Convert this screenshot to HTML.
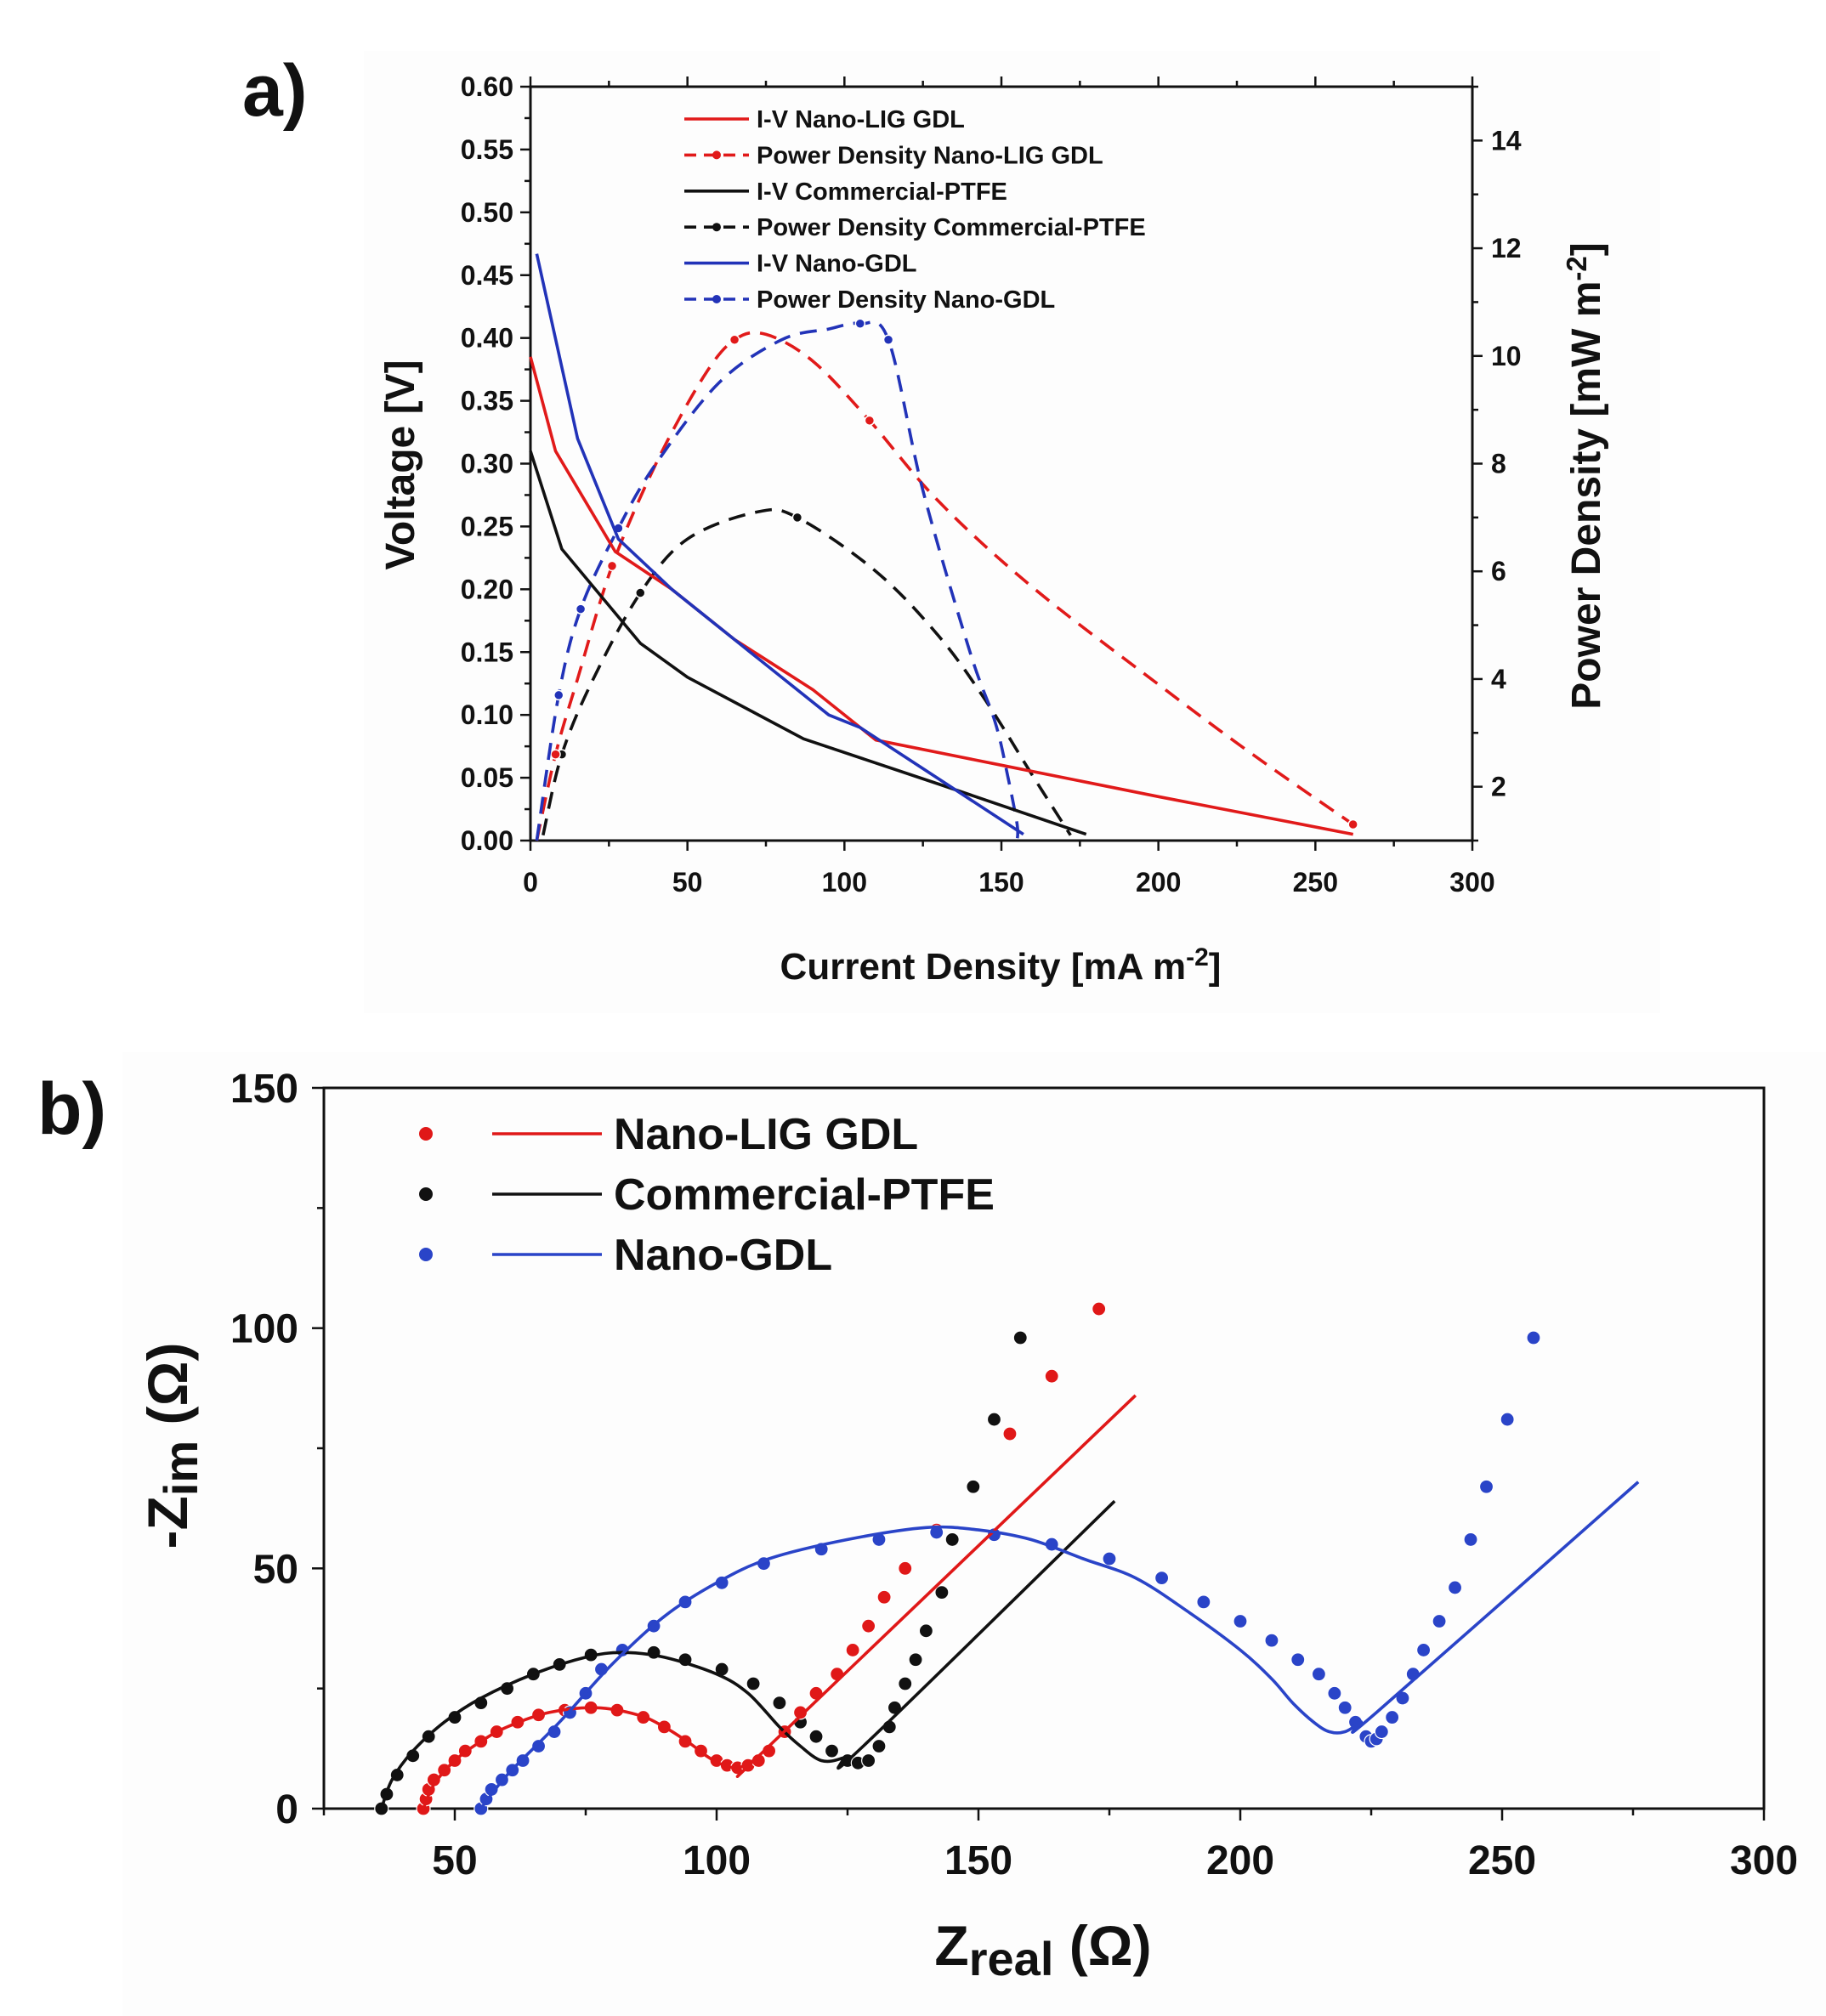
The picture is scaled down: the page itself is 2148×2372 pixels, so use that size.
<!DOCTYPE html>
<html><head><meta charset="utf-8">
<style>
html,body{margin:0;padding:0;background:#fff;}
svg{display:block;}
text{font-family:"Liberation Sans Narrow","Liberation Sans",Arial,sans-serif;font-weight:bold;fill:#111;}
</style></head>
<body>
<svg id="fig" width="2148" height="2372" viewBox="0 0 2148 2372" xmlns="http://www.w3.org/2000/svg">
<rect x="428" y="60" width="1525" height="1132" fill="#fdfdfd"/>
<rect x="144" y="1238" width="2004" height="1134" fill="#fdfdfd"/>
<text x="285" y="136" font-size="86">a)</text>
<text x="44" y="1334" font-size="86">b)</text>
<g id="pa"></g>
<g id="pb"></g>
</svg>
<script>
// ---------- Panel A data ----------
const ivLigX=[0,8,27,45,65,90,110,150,200,262];
const ivLigY=[0.385,0.31,0.23,0.20,0.16,0.12,0.08,0.06,0.035,0.005];
const ivPtfeX=[0,10,35,50,87,130,177];
const ivPtfeY=[0.31,0.232,0.157,0.13,0.081,0.045,0.005];
const ivNanoX=[2,15,28,45,70,95,105,157];
const ivNanoY=[0.467,0.32,0.24,0.2,0.15,0.1,0.09,0.005];
const pdLigX=[2,8,15,26,40,55,65,75,90,108,130,160,200,230,262];
const pdLigY=[1,2.6,4,6.1,8,9.6,10.3,10.4,9.9,8.8,7.3,5.7,3.9,2.6,1.3];
const pdLigMkX=[8,26,65,108,262];
const pdLigMkY=[2.6,6.1,10.3,8.8,1.3];
const pdPtfeX=[4,10,20,35,50,72,85,110,130,145,160,172];
const pdPtfeY=[1.1,2.6,4,5.6,6.6,7.1,7.0,6,4.8,3.6,2.2,1.1];
const pdPtfeMkX=[10,35,85];
const pdPtfeMkY=[2.6,5.6,7.0];
const pdNanoX=[2,9,16,28,40,60,80,95,105,114,125,140,148,152,155,155];
const pdNanoY=[1,3.7,5.3,6.8,8,9.5,10.3,10.5,10.6,10.3,7.5,4.5,3.2,2.2,1.3,1.0];
const pdNanoMkX=[9,16,28,105,114];
const pdNanoMkY=[3.7,5.3,6.8,10.6,10.3];
const aXTicks=[0,50,100,150,200,250,300];
const aYTicks=["0.00","0.05","0.10","0.15","0.20","0.25","0.30","0.35","0.40","0.45","0.50","0.55","0.60"];
const aRTicks=[2,4,6,8,10,12,14];
const aLegend=["I-V Nano-LIG GDL","Power Density Nano-LIG GDL","I-V Commercial-PTFE","Power Density Commercial-PTFE","I-V Nano-GDL","Power Density Nano-GDL"];

// ---------- Panel B data ----------
const ligDotX=[44,44.5,45,46,48,50,52,55,58,62,66,71,76,81,86,90,94,97,100,102,104,106,108,110,113,116,119,123,126,129,132,136,142,156,164,173];
const ligDotY=[0,2,4,6,8,10,12,14,16,18,19.5,20.5,21,20.5,19,17,14,12,10,9,8.5,9,10,12,16,20,24,28,33,38,44,50,58,78,90,104];
const ligFitX=[44,46,50,55,60,68,77,85,90,95,98,101,104,107,110,180];
const ligFitY=[0,5,10,14,17,20,21,19.5,17,13.5,11,9.2,8.5,10,13,86];
const ptfeDotX=[36,37,39,42,45,50,55,60,65,70,76,82,88,94,101,107,112,116,119,122,125,127,129,131,133,134,136,138,140,143,145,149,153,158];
const ptfeDotY=[0,3,7,11,15,19,22,25,28,30,32,33,32.5,31,29,26,22,18,15,12,10,9.5,10,13,17,21,26,31,37,45,56,67,81,98];
const ptfeFitX=[36,38,42,48,55,65,75,82,90,100,106,112,116,120,124,128,176];
const ptfeFitY=[0,6,12,18,23,28,31.5,32.5,31.5,28,24,17,13,10,10.5,13,64];
const nanoDotX=[55,56,57,59,61,63,66,69,72,75,78,82,88,94,101,109,120,131,142,153,164,175,185,193,200,206,211,215,218,220,222,224,225,226,227,229,231,233,235,238,241,244,247,251,256];
const nanoDotY=[0,2,4,6,8,10,13,16,20,24,29,33,38,43,47,51,54,56,57.5,57,55,52,48,43,39,35,31,28,24,21,18,15,14,14.5,16,19,23,28,33,39,46,56,67,81,98];
const nanoFitX=[55,60,70,80,90,100,110,125,140,150,160,170,180,190,200,206,210,214,217,220,223,226,276];
const nanoFitY=[0,7,18,30,40,47,52,56,58.5,58,56,52,48,41,33,27,22,18,16,16,18,20,68];
const bXTicks=[50,100,150,200,250,300];
const bYTicks=[0,50,100,150];
const bLegend=["Nano-LIG GDL","Commercial-PTFE","Nano-GDL"];

const NS="http://www.w3.org/2000/svg";
function mk(parent,tag,attrs){const e=document.createElementNS(NS,tag);for(const k in attrs)e.setAttribute(k,attrs[k]);parent.appendChild(e);return e;}
function pts(xs,ys,fx,fy){return xs.map((x,i)=>fx(x).toFixed(1)+","+fy(ys[i]).toFixed(1)).join(" ");}
function smooth(xs,ys,fx,fy){const P=xs.map((x,i)=>[fx(x),fy(ys[i])]);let d="M"+P[0][0].toFixed(1)+","+P[0][1].toFixed(1);
 for(let i=0;i<P.length-1;i++){const p0=P[Math.max(0,i-1)],p1=P[i],p2=P[i+1],p3=P[Math.min(P.length-1,i+2)];
  const c1=[p1[0]+(p2[0]-p0[0])/6,p1[1]+(p2[1]-p0[1])/6],c2=[p2[0]-(p3[0]-p1[0])/6,p2[1]-(p3[1]-p1[1])/6];
  d+=" C"+c1[0].toFixed(1)+","+c1[1].toFixed(1)+" "+c2[0].toFixed(1)+","+c2[1].toFixed(1)+" "+p2[0].toFixed(1)+","+p2[1].toFixed(1);}
 return d;}

// ===== Panel A =====
const pa=document.getElementById('pa');
const aL=624,aR=1732,aT=102,aB=989;
const ax=v=>aL+(v/300)*(aR-aL);
const ay=v=>aB-(v/0.6)*(aB-aT);
const ap=v=>aB-((v-1)/14)*(aB-aT);
const RED="#e11a1a",BLK="#111",BLU="#2233b8";

let fr=mk(pa,'rect',{x:aL,y:aT,width:aR-aL,height:aB-aT,fill:'none',stroke:'#111','stroke-width':3});


for(let i=0;i<=24;i++){const v=i*0.025;const y=ay(v);const len=i%2==0?12:7;
 const t=mk(pa,'line',{x1:aL-len,y1:y,x2:aL,y2:y,stroke:'#111','stroke-width':2.5});
 
 }
aYTicks.forEach(s=>{const t=mk(pa,'text',{x:aL-20,y:ay(parseFloat(s))+11,'font-size':32,'text-anchor':'end'});t.textContent=s;
 
 });
for(let i=0;i<=12;i++){const v=i*25;const x=ax(v);const len=i%2==0?12:7;
 const t=mk(pa,'line',{x1:x,y1:aB,x2:x,y2:aB+len,stroke:'#111','stroke-width':2.5});
 
 
 const t2=mk(pa,'line',{x1:x,y1:aT,x2:x,y2:aT-len,stroke:'#111','stroke-width':2.5});
 
 }
aXTicks.forEach(v=>{const t=mk(pa,'text',{x:ax(v),y:1049,'font-size':32,'text-anchor':'middle'});t.textContent=v;
 
 });
for(let v=1;v<=15;v++){const y=ap(v);const len=v%2==0?12:7;
 const t=mk(pa,'line',{x1:aR,y1:y,x2:aR+len,y2:y,stroke:'#111','stroke-width':2.5});
 
 }
aRTicks.forEach(v=>{const t=mk(pa,'text',{x:aR+22,y:ap(v)+11,'font-size':32,'text-anchor':'start'});t.textContent=v;
 
 });
let tt=mk(pa,'text',{x:0,y:0,'font-size':48,'text-anchor':'middle',transform:'translate(487,547) rotate(-90)'});tt.textContent="Voltage [V]";


tt=mk(pa,'text',{x:0,y:0,'font-size':48,'text-anchor':'middle',transform:'translate(1882,560) rotate(-90)'});
tt.innerHTML='Power Density [mW m<tspan dy="-16" font-size="33">-2</tspan><tspan dy="16">]</tspan>';


tt=mk(pa,'text',{x:1177,y:1152,'font-size':44,'text-anchor':'middle'});
tt.innerHTML='Current Density [mA m<tspan dy="-16" font-size="30">-2</tspan><tspan dy="16">]</tspan>';



function aLine(xs,ys,fy,col,dash,name,sm){const l=sm?mk(pa,'path',{d:smooth(xs,ys,ax,fy),fill:'none',stroke:col,'stroke-width':3.6,'stroke-dasharray':dash?'20,12':'none'}):
 mk(pa,'polyline',{points:pts(xs,ys,ax,fy),fill:'none',stroke:col,'stroke-width':3.6,'stroke-dasharray':dash?'20,12':'none','stroke-linejoin':'round'});
 
 }
function aMk(xs,ys,col,name){xs.forEach((x,i)=>{const c=mk(pa,'circle',{cx:ax(x),cy:ap(ys[i]),r:5.5,fill:col,stroke:'#fff','stroke-width':1.5});
 
 });}
aLine(pdPtfeX,pdPtfeY,ap,BLK,true,'power-density-commercial-ptfe',true);aMk(pdPtfeMkX,pdPtfeMkY,BLK,'power-marker-commercial-ptfe');
aLine(pdLigX,pdLigY,ap,RED,true,'power-density-nano-lig',true);aMk(pdLigMkX,pdLigMkY,RED,'power-marker-nano-lig');
aLine(pdNanoX,pdNanoY,ap,BLU,true,'power-density-nano-gdl',true);aMk(pdNanoMkX,pdNanoMkY,BLU,'power-marker-nano-gdl');
aLine(ivPtfeX,ivPtfeY,ay,BLK,false,'iv-commercial-ptfe',false);
aLine(ivLigX,ivLigY,ay,RED,false,'iv-nano-lig',false);
aLine(ivNanoX,ivNanoY,ay,BLU,false,'iv-nano-gdl',false);
const aCols=[RED,RED,BLK,BLK,BLU,BLU];
aLegend.forEach((s,i)=>{const y=140+i*42.4;const dashed=i%2==1;
 const g=mk(pa,'g',{});
 
 
 mk(g,'line',{x1:805,y1:y,x2:881,y2:y,stroke:aCols[i],'stroke-width':3.6,'stroke-dasharray':dashed?'14,9':'none'});
 if(dashed)mk(g,'circle',{cx:843,cy:y,r:5,fill:aCols[i]});
 const t=mk(g,'text',{x:890,y:y+10,'font-size':29});t.textContent=s;});

// ===== Panel B =====
const pb=document.getElementById('pb');
const bL=381,bR=2075,bT=1280,bB=2128;
const bx=v=>bL+((v-25)/275)*(bR-bL);
const by=v=>bB-(v/150)*(bB-bT);
fr=mk(pb,'rect',{x:bL,y:bT,width:bR-bL,height:bB-bT,fill:'none',stroke:'#111','stroke-width':3});


for(let v=0;v<=150;v+=25){const y=by(v);const len=v%50==0?14:8;
 const t=mk(pb,'line',{x1:bL-len,y1:y,x2:bL,y2:y,stroke:'#111','stroke-width':2.5});
 
 }
bYTicks.forEach(v=>{const t=mk(pb,'text',{x:bL-30,y:by(v)+17,'font-size':48,'text-anchor':'end'});t.textContent=v;
 
 });
for(let v=25;v<=300;v+=25){const x=bx(v);const len=v%50==0?14:8;
 const t=mk(pb,'line',{x1:x,y1:bB,x2:x,y2:bB+len,stroke:'#111','stroke-width':2.5});
 
 }
bXTicks.forEach(v=>{const t=mk(pb,'text',{x:bx(v),y:2205,'font-size':48,'text-anchor':'middle'});t.textContent=v;
 
 });
tt=mk(pb,'text',{x:0,y:0,'font-size':66,'text-anchor':'middle',transform:'translate(220,1701) rotate(-90)'});
tt.innerHTML='-Z<tspan font-size="56" dy="12">im</tspan><tspan dy="-12"> (Ω)</tspan>';


tt=mk(pb,'text',{x:1227,y:2312,'font-size':66,'text-anchor':'middle'});
tt.innerHTML='Z<tspan font-size="56" dy="12">real</tspan><tspan dy="-12"> (Ω)</tspan>';



const bRed="#e01818",bBlk="#111",bBlu="#2a44c8";
function bLine(xs,ys,col,name){const l=mk(pb,'path',{d:smooth(xs,ys,bx,by),fill:'none',stroke:col,'stroke-width':3.6});
 
 }
function bDots(xs,ys,col,name){xs.forEach((x,i)=>{const c=mk(pb,'circle',{cx:bx(x),cy:by(ys[i]),r:8,fill:col,stroke:'#fff','stroke-width':1.2});
 
 });}
bDots(ptfeDotX,ptfeDotY,bBlk,'eis-point-commercial-ptfe');
bDots(ligDotX,ligDotY,bRed,'eis-point-nano-lig');
bDots(nanoDotX,nanoDotY,bBlu,'eis-point-nano-gdl');
bLine(ptfeFitX,ptfeFitY,bBlk,'eis-fit-commercial-ptfe');
bLine(ligFitX,ligFitY,bRed,'eis-fit-nano-lig');
bLine(nanoFitX,nanoFitY,bBlu,'eis-fit-nano-gdl');
const bCols=[bRed,bBlk,bBlu];
bLegend.forEach((s,i)=>{const y=1334+i*71;
 const g=mk(pb,'g',{});
 
 
 mk(g,'circle',{cx:501,cy:y,r:8,fill:bCols[i]});
 mk(g,'line',{x1:579,y1:y,x2:708,y2:y,stroke:bCols[i],'stroke-width':3.6});
 const t=mk(g,'text',{x:722,y:y+18,'font-size':52});t.textContent=s;});
</script>
</body></html>
